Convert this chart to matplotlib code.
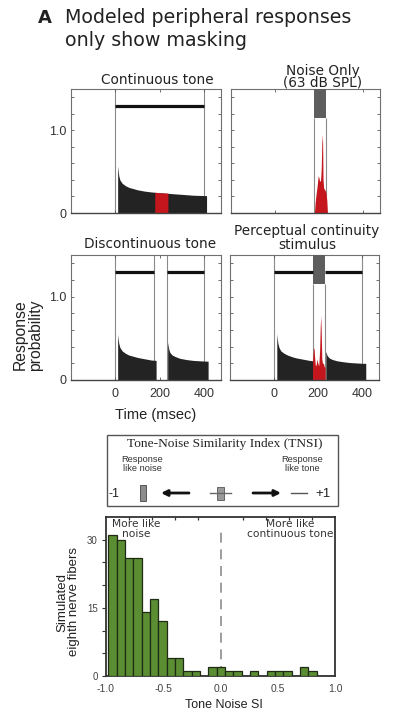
import numpy as np
import matplotlib
matplotlib.use("Agg")
import matplotlib.pyplot as plt
from matplotlib.patches import Rectangle

# ---------------- data ----------------
# continuous tone response (time ms, response probability)
cont_t = [10, 12, 15, 20, 30, 45, 60, 80, 100, 130, 160, 200, 250, 300, 350, 410]
cont_p = [0.57, 0.52, 0.45, 0.40, 0.36, 0.33, 0.31, 0.295, 0.28, 0.265, 0.255, 0.245, 0.235, 0.225, 0.215, 0.21]
cont_red_t = [177, 200, 236]
cont_red_p = [0.25, 0.245, 0.24]

# noise only response
noise_t = [178, 181, 185, 190, 195, 198, 202, 206, 209, 211, 213, 215, 217, 220, 225, 230, 234, 237]
noise_p = [0.0, 0.12, 0.22, 0.32, 0.45, 0.43, 0.38, 0.40, 0.55, 0.80, 0.95, 0.85, 0.40, 0.30, 0.28, 0.25, 0.15, 0.0]

# discontinuous tone response
disc1_t = [10, 12, 15, 20, 30, 45, 60, 80, 100, 130, 160, 183]
disc1_p = [0.55, 0.50, 0.44, 0.39, 0.35, 0.32, 0.30, 0.285, 0.27, 0.255, 0.24, 0.235]
disc2_t = [235, 237, 240, 245, 255, 270, 290, 320, 350, 380, 417]
disc2_p = [0.45, 0.42, 0.37, 0.33, 0.30, 0.28, 0.26, 0.245, 0.235, 0.23, 0.225]

# perceptual continuity stimulus response
perc1_t = [12, 14, 17, 22, 30, 45, 60, 80, 100, 130, 160, 176]
perc1_p = [0.56, 0.50, 0.44, 0.39, 0.35, 0.32, 0.30, 0.28, 0.265, 0.25, 0.235, 0.23]
perc_red_t = [174, 176, 178, 181, 184, 187, 190, 194, 198, 202, 206, 209, 211, 213, 216, 219, 223, 227, 231]
perc_red_p = [0.23, 0.30, 0.39, 0.37, 0.25, 0.17, 0.18, 0.25, 0.20, 0.17, 0.35, 0.65, 0.77, 0.60, 0.25, 0.20, 0.20, 0.16, 0.15]
perc2_t = [234, 236, 239, 244, 252, 265, 285, 310, 340, 370, 400, 415]
perc2_p = [0.34, 0.33, 0.30, 0.28, 0.26, 0.245, 0.23, 0.22, 0.21, 0.205, 0.20, 0.20]

# stimulus timing (ms) and levels
tone_on, tone_off = 0, 400
noise_on, noise_off = 175, 230
bar_level = 1.3
box_bottom, box_top = 1.15, 1.5

time_ticks = [0, 200, 400]
prob_ticks = [0, 0.2, 0.4, 0.6, 0.8, 1.0, 1.2, 1.4]
prob_labels = ["0", "", "", "", "", "1.0", "", ""]

# histogram of tone-noise similarity index
hist_bin_start = -0.98
hist_bin_width = 0.0728
hist_counts = [31, 30, 26, 26, 14, 17, 12, 4, 4, 1, 1, 0, 2, 2, 1, 1, 0, 1, 0, 1, 1, 1, 0, 2, 1, 0, 0]
si_ticks = [-1.0, -0.5, 0.0, 0.5, 1.0]
si_labels = ["-1.0", "-0.5", "0.0", "0.5", "1.0"]
count_ticks = [0, 15, 30]

# ---------------- style ----------------
BLACK = "#232323"
RED = "#c4161c"
GRAY_BOX = "#5e5e5e"
LINE_GRAY = "#8a8a8a"
GREEN = "#5b8d33"
SANS = ["Liberation Sans", "DejaVu Sans"]
VERD = ["DejaVu Sans"]

W, H = 400, 718
fig = plt.figure(figsize=(W / 100, H / 100), dpi=100)


def ax_px(l, t, r, b):
    return fig.add_axes([l / W, 1 - b / H, (r - l) / W, (b - t) / H])


def style_panel(ax, xlabels, ylabels):
    ax.set_xlim(-200, 475)
    ax.set_ylim(0, 1.5)
    ax.set_xticks(time_ticks)
    ax.set_yticks(prob_ticks)
    ax.set_xticklabels([str(v) for v in time_ticks] if xlabels else [])
    ax.set_yticklabels(prob_labels if ylabels else [])
    ax.tick_params(direction="in", length=2.5, width=0.6, color="#555555",
                   top=True, right=True, labelsize=9, pad=3)
    ax.tick_params(axis="x", pad=6)
    for lab in ax.get_xticklabels() + ax.get_yticklabels():
        lab.set_family(SANS)
        lab.set_color("#333333")
    for s in ax.spines.values():
        s.set_color("#707070")
        s.set_linewidth(0.8)
    ax.spines["bottom"].set_color("#444444")
    ax.spines["bottom"].set_linewidth(1.0)


def full_vline(ax, x):
    ax.axvline(x, color=LINE_GRAY, lw=0.8, zorder=1)


def noise_box(ax):
    ax.add_patch(Rectangle((noise_on, box_bottom), noise_off - noise_on, box_top - box_bottom,
                           facecolor=GRAY_BOX, edgecolor="none", zorder=3))
    ax.vlines([noise_on, noise_off], 0, box_bottom, color=LINE_GRAY, lw=0.8, zorder=1)


# Continuous tone
ax1 = ax_px(71, 89, 221, 213)
style_panel(ax1, False, True)
full_vline(ax1, tone_on)
full_vline(ax1, tone_off)
ax1.hlines(bar_level, tone_on, tone_off, color="#111111", lw=2.3, zorder=3)
ax1.fill_between(cont_t, cont_p, 0, color=BLACK, lw=0, zorder=2)
ax1.fill_between(cont_red_t, cont_red_p, 0, color=RED, lw=0, zorder=2.5)

# Noise only
ax2 = ax_px(231, 89, 380, 213)
style_panel(ax2, False, False)
noise_box(ax2)
ax2.fill_between(noise_t, noise_p, 0, color=RED, lw=0, zorder=2.5)

# Discontinuous tone
ax3 = ax_px(71, 255, 221, 380)
style_panel(ax3, True, True)
for x in (tone_on, noise_on, noise_off, tone_off):
    full_vline(ax3, x)
ax3.hlines(bar_level, tone_on, noise_on, color="#111111", lw=2.3, zorder=3)
ax3.hlines(bar_level, noise_off, tone_off, color="#111111", lw=2.3, zorder=3)
ax3.fill_between(disc1_t, disc1_p, 0, color=BLACK, lw=0, zorder=2)
ax3.fill_between(disc2_t, disc2_p, 0, color=BLACK, lw=0, zorder=2)

# Perceptual continuity stimulus
ax4 = ax_px(230, 255, 379, 380)
style_panel(ax4, True, False)
full_vline(ax4, tone_on)
full_vline(ax4, tone_off)
noise_box(ax4)
ax4.hlines(bar_level, tone_on, noise_on, color="#111111", lw=2.3, zorder=3)
ax4.hlines(bar_level, noise_off, tone_off, color="#111111", lw=2.3, zorder=3)
ax4.fill_between(perc1_t, perc1_p, 0, color=BLACK, lw=0, zorder=2)
ax4.fill_between(perc_red_t, perc_red_p, 0, color=RED, lw=0, zorder=2.5)
ax4.fill_between(perc2_t, perc2_p, 0, color=BLACK, lw=0, zorder=2)

# Histogram
axh = ax_px(106, 517, 335, 676)
lefts = hist_bin_start + hist_bin_width * np.arange(len(hist_counts))
axh.bar(lefts, hist_counts, width=hist_bin_width, align="edge", color=GREEN,
        edgecolor="#1f2b12", linewidth=0.9, zorder=3)
axh.plot([0, 0], [0, 32.5], color="#8c8c8c", lw=1.2, dashes=(6, 4), zorder=1)
axh.set_xlim(-1.0, 1.0)
axh.set_ylim(0, 35)
axh.set_xticks(si_ticks)
axh.set_xticklabels(si_labels)
axh.set_yticks(count_ticks)
axh.set_yticks([5, 10, 20, 25], minor=True)
axh.tick_params(axis="y", which="both", direction="out", length=3, width=0.8,
                color="#333333", labelsize=7, labelcolor="#444444", pad=3)
axh.tick_params(axis="x", direction="out", length=0, labelsize=7.5,
                labelcolor="#444444", pad=6)
for lab in axh.get_xticklabels() + axh.get_yticklabels():
    lab.set_family(SANS)
sec = axh.secondary_xaxis("top")
sec.set_xticks([-0.8, -0.6, -0.4, -0.2, 0.2, 0.4, 0.6, 0.8])
sec.set_xticklabels([])
sec.tick_params(direction="in", length=2.5, width=0.9, color="#333333")
sec.spines["top"].set_visible(False)
for s in axh.spines.values():
    s.set_color("#333333")
    s.set_linewidth(1.3)

# Overlay for text and legend graphics (pixel coordinates)
ov = fig.add_axes([0, 0, 1, 1])
ov.set_xlim(0, W)
ov.set_ylim(H, 0)
ov.axis("off")

ov.text(38, 22.7, "A", fontsize=13, fontweight="bold", family=VERD, ha="left", va="baseline", color="#222222")
ov.text(65, 22.7, "Modeled peripheral responses", fontsize=13.7, family=VERD, ha="left", va="baseline", color="#222222")
ov.text(65, 45.5, "only show masking", fontsize=13.7, family=VERD, ha="left", va="baseline", color="#222222")

ov.text(157, 84, "Continuous tone", fontsize=9.8, family=VERD, ha="center", va="baseline", color="#222222")
ov.text(323, 74.5, "Noise Only", fontsize=9.8, family=VERD, ha="center", va="baseline", color="#222222")
ov.text(323, 87, "(63 dB SPL)", fontsize=9.8, family=VERD, ha="center", va="baseline", color="#222222")
ov.text(150, 248, "Discontinuous tone", fontsize=9.8, family=VERD, ha="center", va="baseline", color="#222222")
ov.text(307, 235.5, "Perceptual continuity", fontsize=9.8, family=VERD, ha="center", va="baseline", color="#222222")
ov.text(307, 249, "stimulus", fontsize=9.8, family=VERD, ha="center", va="baseline", color="#222222")

ov.text(28, 335, "Response\nprobability", fontsize=11.3, family=SANS, rotation=90,
        ha="center", va="center", linespacing=1.0, color="#222222")
ov.text(156, 415, "Time (msec)", fontsize=10.5, family=SANS, ha="center", va="center", color="#222222")

# TNSI legend box
ov.add_patch(Rectangle((107, 435), 231, 71, facecolor="none", edgecolor="#555555", lw=1.0))
ov.text(225, 444, "Tone-Noise Similarity Index (TNSI)", fontsize=9.6,
        family=["Liberation Serif", "DejaVu Serif"], ha="center", va="center", color="#222222")
ov.text(142, 464, "Response\nlike noise", fontsize=6.7, family=SANS, ha="center", va="center",
        linespacing=1.1, color="#333333")
ov.text(302, 464, "Response\nlike tone", fontsize=6.7, family=SANS, ha="center", va="center",
        linespacing=1.1, color="#333333")
ov.text(114, 494, "-1", fontsize=9, family=SANS, ha="center", va="center", color="#222222")
ov.text(323, 494, "+1", fontsize=9.5, family=SANS, ha="center", va="center", color="#222222")
ov.add_patch(Rectangle((140, 485), 6, 16, facecolor="#8c8c8c", edgecolor="#444444", lw=0.6))
ov.annotate("", xy=(161, 493), xytext=(189, 493),
            arrowprops=dict(arrowstyle="-|>", lw=2.0, color="#111111", mutation_scale=9,
                            shrinkA=0, shrinkB=0))
ov.plot([210, 231], [493, 493], color="#666666", lw=1.0)
ov.add_patch(Rectangle((217, 487), 7, 13, facecolor="#999999", edgecolor="#555555", lw=0.6))
ov.annotate("", xy=(281, 493), xytext=(253, 493),
            arrowprops=dict(arrowstyle="-|>", lw=2.0, color="#111111", mutation_scale=9,
                            shrinkA=0, shrinkB=0))
ov.plot([291, 307], [493, 493], color="#555555", lw=1.0)

# histogram annotations
ov.text(136, 519, "More like\nnoise", fontsize=7.7, family=VERD, ha="center", va="top",
        linespacing=1.0, color="#333333")
ov.text(290, 519, "More like\ncontinuous tone", fontsize=7.7, family=VERD, ha="center", va="top",
        linespacing=1.0, color="#333333")
ov.text(68, 602, "Simulated\neighth nerve fibers", fontsize=9.5, family=SANS, rotation=90,
        ha="center", va="center", linespacing=1.0, color="#222222")
ov.text(224, 705, "Tone Noise SI", fontsize=9, family=SANS, ha="center", va="center", color="#222222")

fig.savefig("out.png", dpi=100)
